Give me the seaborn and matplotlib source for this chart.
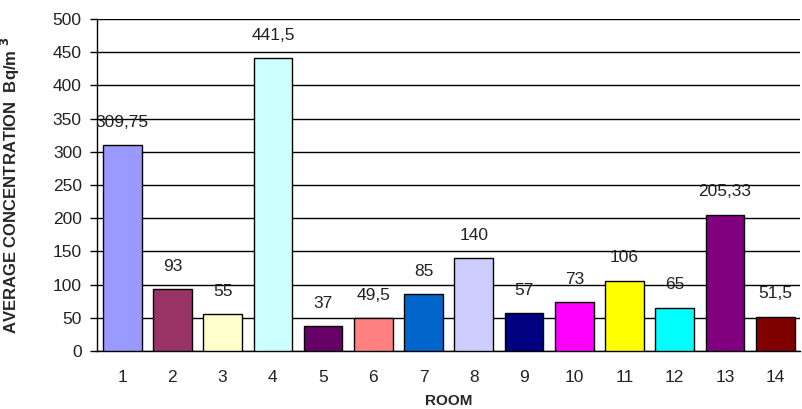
import matplotlib
matplotlib.use("Agg")
import matplotlib.pyplot as plt
import seaborn as sns
import pandas as pd
import numpy as np

rooms = [str(i) for i in range(1, 15)]
values = [309.75, 93, 55, 441.5, 37, 49.5, 85, 140, 57, 73, 106, 65, 205.33, 51.5]
labels = ["309,75", "93", "55", "441,5", "37", "49,5", "85", "140", "57", "73", "106", "65", "205,33", "51,5"]
colors = ["#9999FF", "#993366", "#FFFFCC", "#CCFFFF", "#660066", "#FF8080", "#0066CC",
          "#CCCCFF", "#000080", "#FF00FF", "#FFFF00", "#00FFFF", "#800080", "#800000"]

sns.set_style("white")
plt.rcParams['font.family'] = ['Liberation Sans', 'DejaVu Sans']

df = pd.DataFrame({"room": rooms, "value": values})

fig = plt.figure(figsize=(8.02, 4.09), dpi=100)
ax = fig.add_axes([0.121, 0.142, 0.877, 0.8115])

sns.barplot(data=df, x="room", y="value", hue="room", palette=colors, legend=False,
            saturation=1, width=0.77, edgecolor="black", linewidth=1.0, ax=ax, zorder=3)

ax.set_ylim(0, 500)
ax.set_xlim(-0.5, len(rooms) - 0.5)
ax.set_yticks(np.arange(0, 501, 50))
ax.yaxis.grid(True, color="black", linewidth=1.0, zorder=0)
ax.set_axisbelow(True)

for s in ["top", "right"]:
    ax.spines[s].set_visible(False)
for s in ["left", "bottom"]:
    ax.spines[s].set_color("black")
    ax.spines[s].set_linewidth(1.0)

ax.set_xticks(np.arange(len(rooms)))
ax.set_xticklabels(rooms)
ax.set_xticks(np.arange(-0.5, len(rooms), 1.0), minor=True)
ax.tick_params(axis="x", which="major", length=0, pad=14, labelsize=12.5, labelcolor="#222222")
ax.tick_params(axis="x", which="minor", length=5, width=1, color="black", direction="out")
ax.tick_params(axis="y", which="major", length=5, width=1, color="black", direction="out",
               labelsize=12.5, pad=6, labelcolor="#222222")
ax.tick_params(bottom=True, left=True)

for i, (v, lab) in enumerate(zip(values, labels)):
    ax.annotate(lab, (i, v), xytext=(0, 11), textcoords="offset points",
                ha="center", va="bottom", fontsize=12.5, color="#222222", zorder=5)

ax.set_xlabel("ROOM", fontsize=11, fontweight="bold", labelpad=6)
ax.set_ylabel("AVERAGE CONCENTRATION  Bq/m $^{\\mathbf{3}}$", fontsize=12, fontweight="bold",
              labelpad=22)

fig.savefig("out.png", dpi=100)
